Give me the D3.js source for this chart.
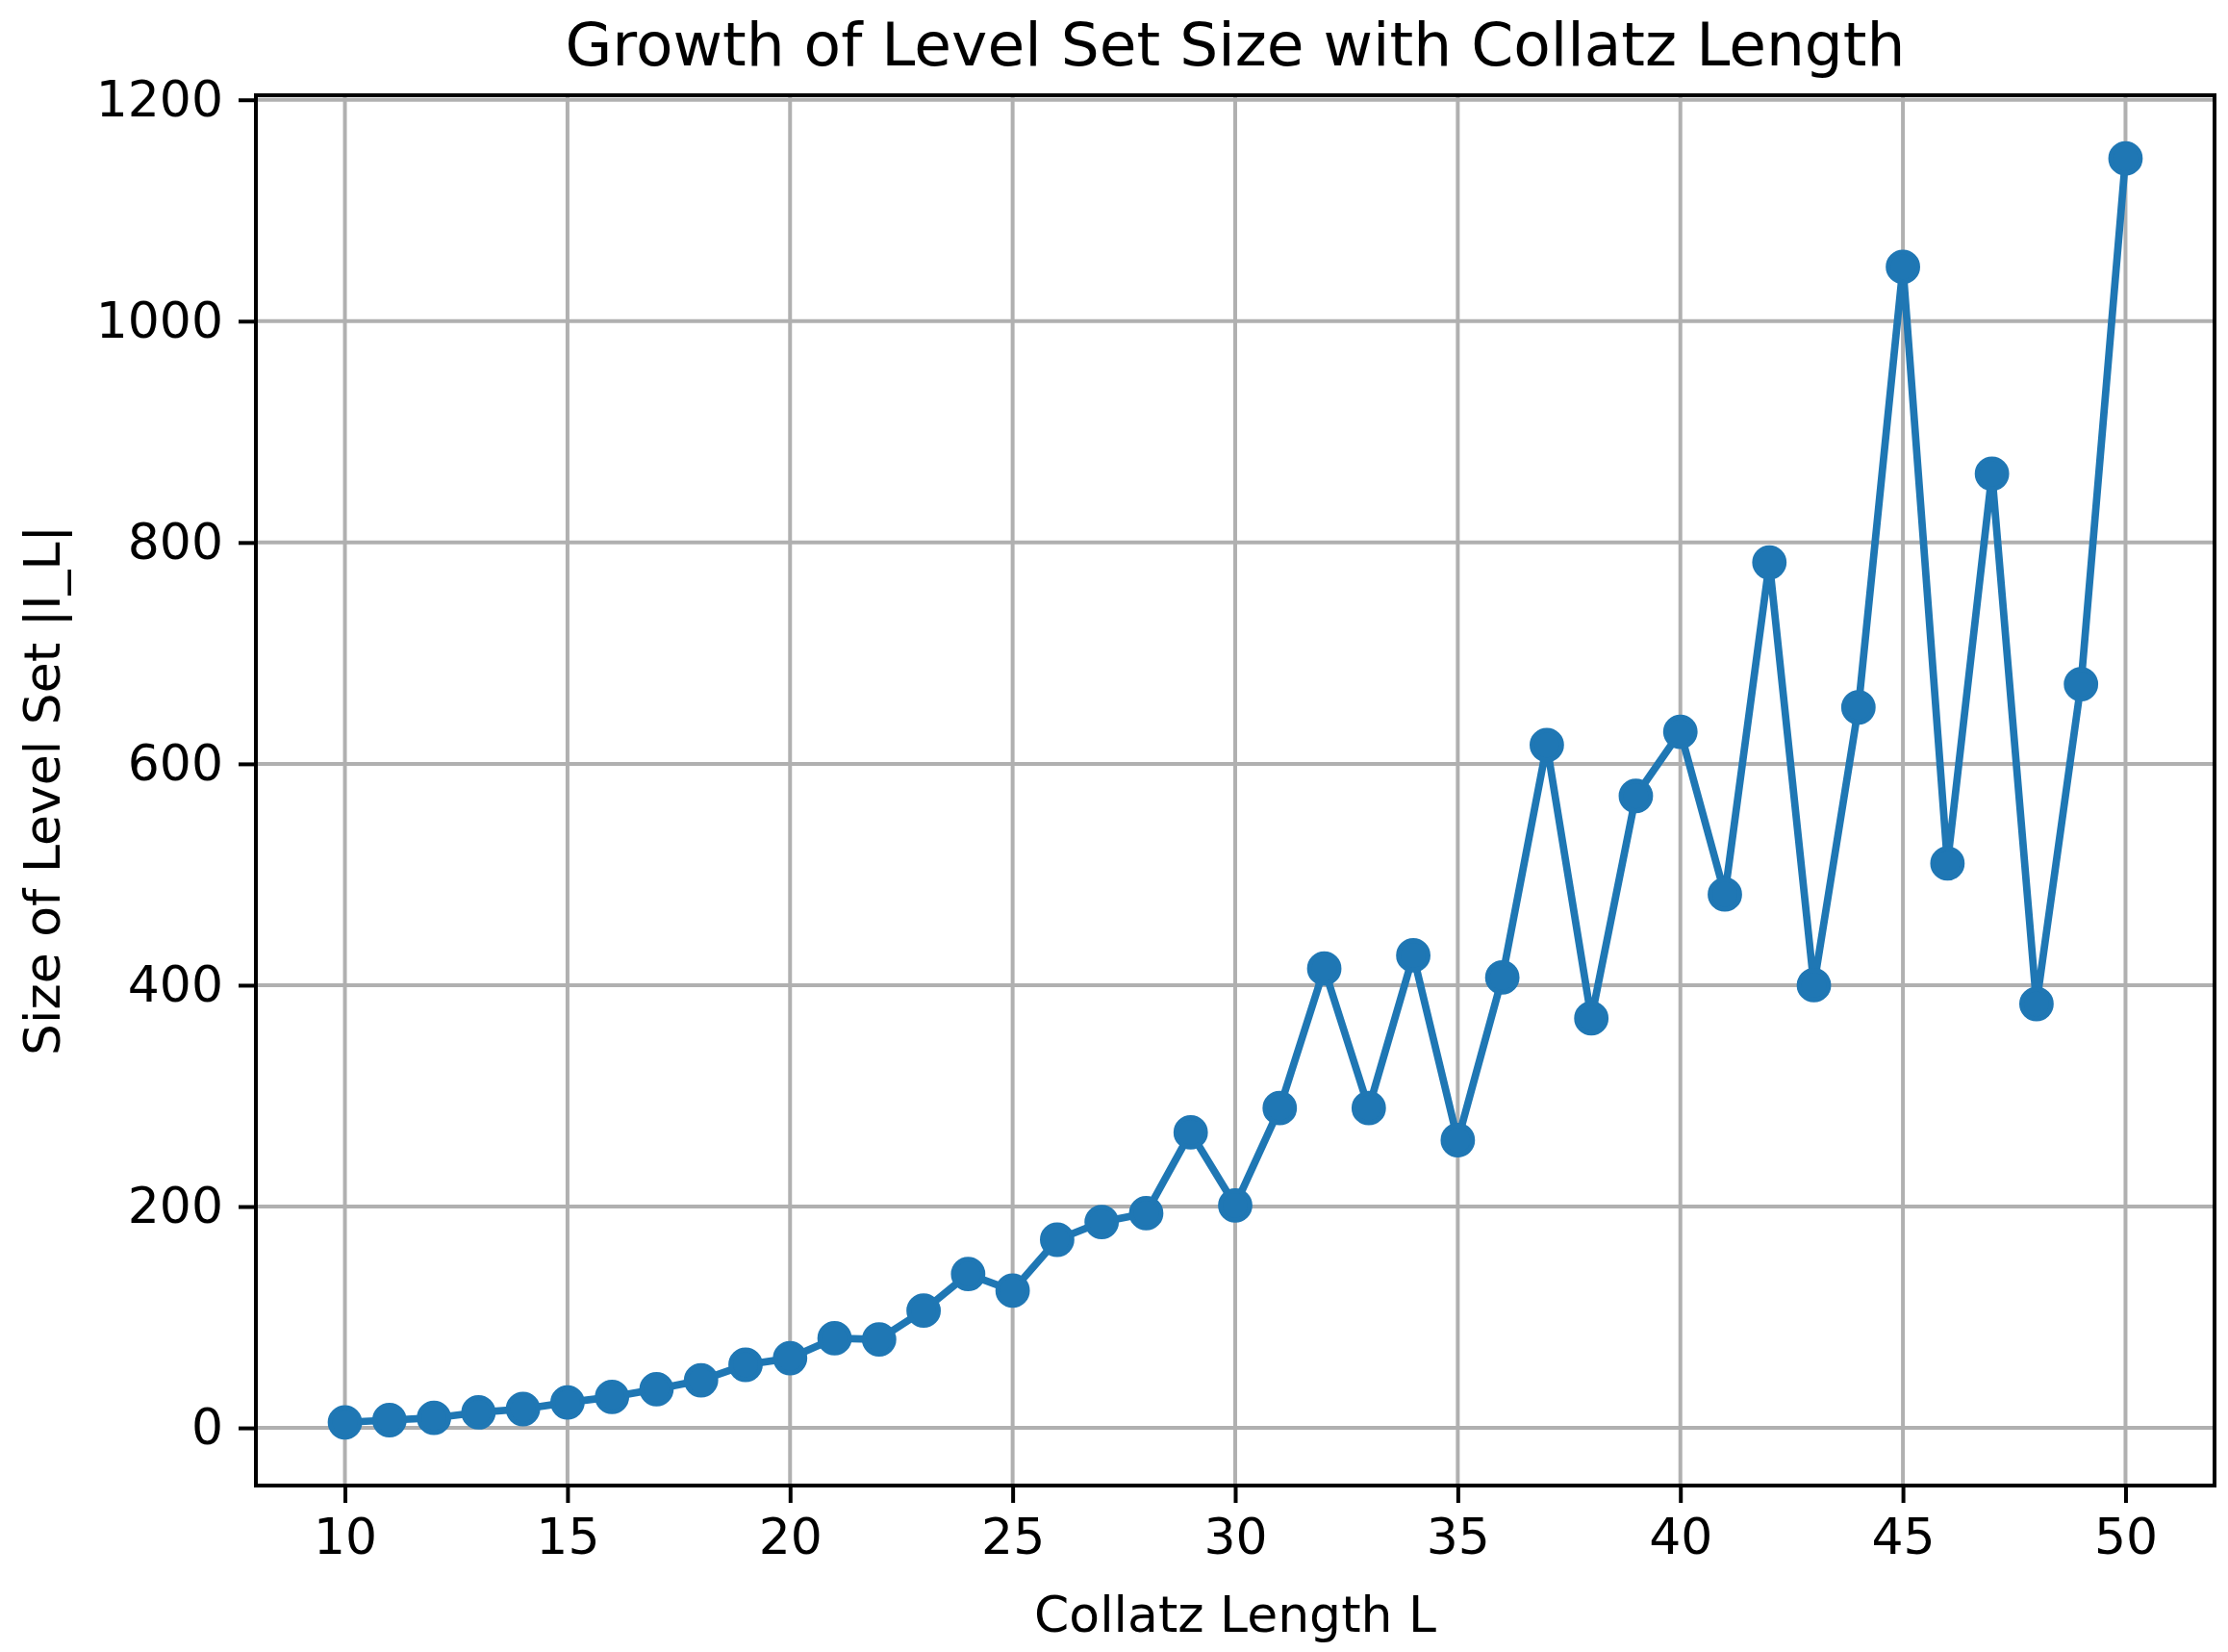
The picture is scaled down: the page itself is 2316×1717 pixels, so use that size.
<!DOCTYPE html>
<html>
<head>
<meta charset="utf-8">
<script src="https://cdn.jsdelivr.net/npm/d3@7"></script>
<style>
  html, body { margin: 0; padding: 0; background: #fff; }
  svg { display: block; }
  text { font-family: "DejaVu Sans", sans-serif; fill: #000; }
</style>
</head>
<body>
<svg id="chart" width="2316" height="1717"></svg>
<script>
// ---- Data ----
const lengths = [10,11,12,13,14,15,16,17,18,19,20,21,22,23,24,25,26,27,28,29,30,
                 31,32,33,34,35,36,37,38,39,40,41,42,43,44,45,46,47,48,49,50];
const levelSizes = [5,7,9,14,17,23,28,35,43,57,63,81,80,106,139,124,170,186,194,267,201,
                    289,415,289,427,260,407,617,370,571,629,482,782,400,651,1049,510,862,383,672,1147];
const xTicks = [10,15,20,25,30,35,40,45,50];
const yTicks = [0,200,400,600,800,1000,1200];
const titleText = "Growth of Level Set Size with Collatz Length";
const xLabelText = "Collatz Length L";
const yLabelText = "Size of Level Set |I_L|";

// ---- Layout ----
const W = 2316, H = 1717;
const plot = { left: 266, right: 2302, top: 99, bottom: 1544 };
const color = "#1f77b4";
const fs = 52;

const svg = d3.select("#chart");

// matplotlib-like 5% margins
const xMin = d3.min(lengths), xMax = d3.max(lengths);
const yMin = d3.min(levelSizes), yMax = d3.max(levelSizes);
const xPad = (xMax - xMin) * 0.05, yPad = (yMax - yMin) * 0.05;

const x = d3.scaleLinear().domain([xMin - xPad, xMax + xPad]).range([plot.left, plot.right]);
const y = d3.scaleLinear().domain([yMin - yPad, yMax + yPad]).range([plot.bottom, plot.top]);

// grid
const grid = svg.append("g");
grid.selectAll("line.gx").data(xTicks).enter().append("line")
  .attr("x1", d => x(d)).attr("x2", d => x(d))
  .attr("y1", plot.top).attr("y2", plot.bottom)
  .attr("stroke", "#b0b0b0").attr("stroke-width", 4);
grid.selectAll("line.gy").data(yTicks).enter().append("line")
  .attr("y1", d => y(d)).attr("y2", d => y(d))
  .attr("x1", plot.left).attr("x2", plot.right)
  .attr("stroke", "#b0b0b0").attr("stroke-width", 4);

// data line + markers
const line = d3.line().x((d, i) => x(lengths[i])).y(d => y(d));
svg.append("path")
  .datum(levelSizes)
  .attr("d", line)
  .attr("fill", "none")
  .attr("stroke", color)
  .attr("stroke-width", 7.7)
  .attr("stroke-linejoin", "round")
  .attr("stroke-linecap", "square");

svg.append("g").selectAll("circle").data(levelSizes).enter().append("circle")
  .attr("cx", (d, i) => x(lengths[i]))
  .attr("cy", d => y(d))
  .attr("r", 15.4)
  .attr("fill", color)
  .attr("stroke", color)
  .attr("stroke-width", 5);

// axes
const xAxis = d3.axisBottom(x).tickValues(xTicks).tickSize(18).tickPadding(16).tickFormat(d3.format("d"));
const yAxis = d3.axisLeft(y).tickValues(yTicks).tickSize(18).tickPadding(16).tickFormat(d3.format("d"));

const gx = svg.append("g").attr("transform", `translate(0,${plot.bottom})`).call(xAxis);
const gy = svg.append("g").attr("transform", `translate(${plot.left},0)`).call(yAxis);
[gx, gy].forEach(g => {
  g.select(".domain").remove();
  g.selectAll(".tick line").attr("stroke", "#000").attr("stroke-width", 4);
  g.selectAll(".tick text").style("font-size", fs + "px").style("font-family", "DejaVu Sans").attr("fill", "#000");
});

// spines
svg.append("rect")
  .attr("x", plot.left).attr("y", plot.top)
  .attr("width", plot.right - plot.left).attr("height", plot.bottom - plot.top)
  .attr("fill", "none").attr("stroke", "#000").attr("stroke-width", 4);

// title & labels
svg.append("text")
  .attr("x", (plot.left + plot.right) / 2).attr("y", 68)
  .attr("text-anchor", "middle")
  .style("font-size", "63px")
  .text(titleText);

svg.append("text")
  .attr("x", (plot.left + plot.right) / 2).attr("y", 1696)
  .attr("text-anchor", "middle")
  .style("font-size", fs + "px")
  .text(xLabelText);

svg.append("text")
  .attr("transform", `translate(62,${(plot.top + plot.bottom) / 2}) rotate(-90)`)
  .attr("text-anchor", "middle")
  .style("font-size", fs + "px")
  .text(yLabelText);
</script>
</body>
</html>
